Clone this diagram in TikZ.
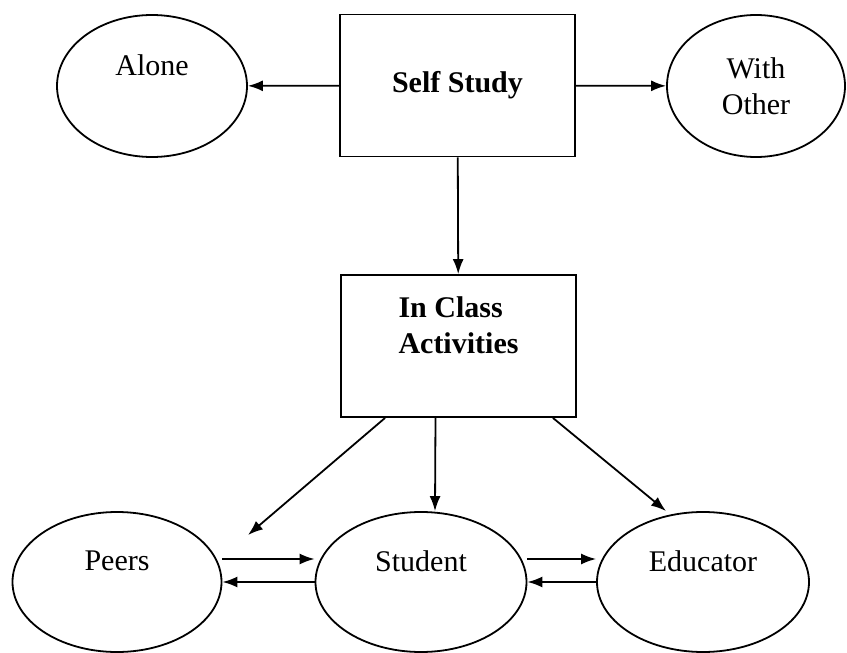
\documentclass[tikz,border=0pt]{standalone}
\usepackage{fontspec}
\setmainfont{Liberation Serif}
\usetikzlibrary{shapes.geometric,arrows.meta}

\begin{document}
\begin{tikzpicture}[x=1pt,y=-1pt,line width=1.8pt,
    >={Latex[length=15pt,width=11pt]},
    every node/.style={font=\fontsize{30}{36}\selectfont},
    oval/.style={ellipse,draw,inner sep=0pt,minimum height=142pt},
    block/.style={rectangle,draw,minimum width=235pt,minimum height=142pt},
    raised/.style={text depth=42pt}]
    \useasboundingbox (0,0) rectangle (847,653);

    % top row
    \node[oval,minimum width=190pt,raised] (alone) at (152,86) {Alone};
    \node[block,font=\fontsize{30}{36}\selectfont\bfseries] (self) at (457.5,85.5) {Self Study};
    \node[oval,minimum width=178pt,align=center] (with) at (756,86) {With\\Other};

    % middle
    \node[block,align=left,font=\fontsize{30}{36}\selectfont\bfseries,raised]
        (inclass) at (458.5,346) {In Class\\ Activities};

    % bottom row
    \begin{scope}[every node/.append style={oval,raised,minimum height=140pt}]
    \node[minimum width=209pt] (peers) at (117,582) {Peers};
    \node[minimum width=211pt] (student) at (421,582) {Student};
    \node[minimum width=212pt] (educator) at (703,582) {Educator};
    \end{scope}

    \coordinate (peerstip) at (248,535);
    \coordinate (edutip) at (666,511);

    \draw[->] (self) -- (alone);
    \draw[->] (self) -- (with);
    \draw[->] (self) -- (inclass);
    \draw[->] ([xshift=45pt]inclass.south west) -- (peerstip);
    \draw[->] ([xshift=-23pt]inclass.south) -- ([xshift=14pt]student.north);
    \draw[->] ([xshift=-24pt]inclass.south east) -- (edutip);
    \draw[->] ([yshift=23pt]peers.east) -- ([yshift=23pt]student.west);
    \draw[->] (student.west) -- (peers.east);
    \draw[->] ([yshift=23pt]student.east) -- ([yshift=23pt]educator.west);
    \draw[->] (educator.west) -- (student.east);
\end{tikzpicture}
\end{document}
